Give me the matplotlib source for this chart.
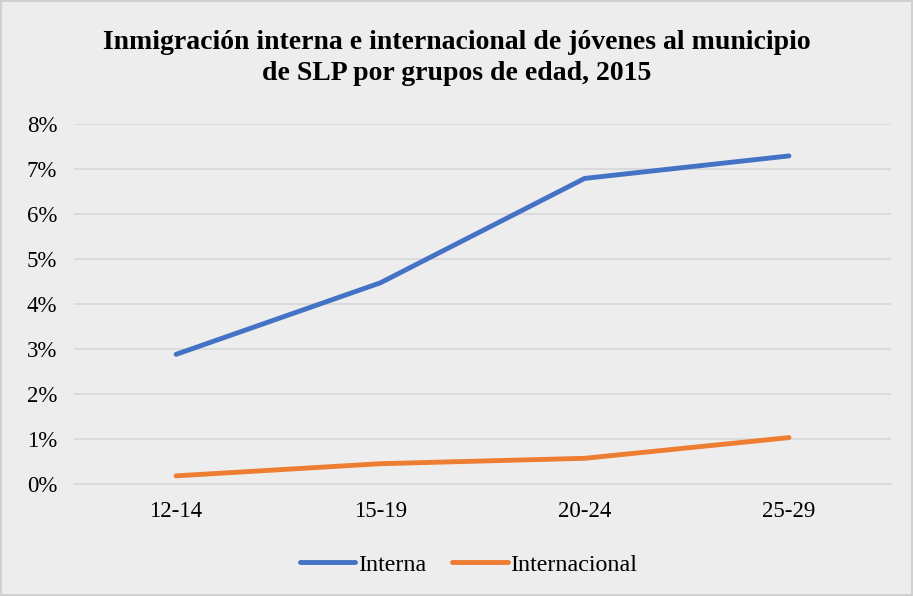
import matplotlib
matplotlib.use("Agg")
import matplotlib.pyplot as plt
from matplotlib.ticker import PercentFormatter

# data
grupos = ["12-14", "15-19", "20-24", "25-29"]
interna = [2.88, 4.47, 6.79, 7.29]
internacional = [0.18, 0.45, 0.57, 1.03]

bg = "#EDEDED"
plt.rcParams['font.family'] = ['Liberation Serif', 'DejaVu Serif']

fig = plt.figure(figsize=(9.13, 5.96), dpi=100, facecolor=bg,
                 edgecolor="#D0D0D0", linewidth=1.5)
ax = fig.add_axes([0.081, 0.188, 0.895, 0.604])
ax.set_facecolor(bg)

x = range(len(grupos))
ax.plot(x, interna, color="#4472C4", lw=3.5, solid_capstyle="round", label="Interna")
ax.plot(x, internacional, color="#ED7D31", lw=3.5, solid_capstyle="round", label="Internacional")

ax.set_xlim(-0.5, 3.5)
ax.set_ylim(0, 8)
ax.set_yticks(range(0, 9))
ax.yaxis.set_major_formatter(PercentFormatter(decimals=0))
ax.set_xticks(list(x))
ax.set_xticklabels(grupos)
ax.grid(axis="y", color="#D9D9D9", lw=1.3)
ax.set_axisbelow(True)
for s in ["top", "right", "left"]:
    ax.spines[s].set_visible(False)
ax.spines["bottom"].set_color("#D9D9D9")
ax.spines["bottom"].set_linewidth(1.3)
ax.tick_params(length=0, labelsize=16.5, colors="#000000")
ax.tick_params(axis="y", pad=12)
ax.tick_params(axis="x", pad=12)

fig.suptitle("Inmigración interna e internacional de jóvenes al municipio\nde SLP por grupos de edad, 2015",
             y=0.95, fontsize=20, fontweight="bold", linespacing=1.35)

ax.legend(loc="center", bbox_to_anchor=(0.483, -0.225), ncol=2, frameon=False,
          fontsize=17.3, handlelength=2.3, handletextpad=0.1, columnspacing=1.1)

fig.savefig("out.png", dpi=100, facecolor=bg, edgecolor=fig.get_edgecolor())
